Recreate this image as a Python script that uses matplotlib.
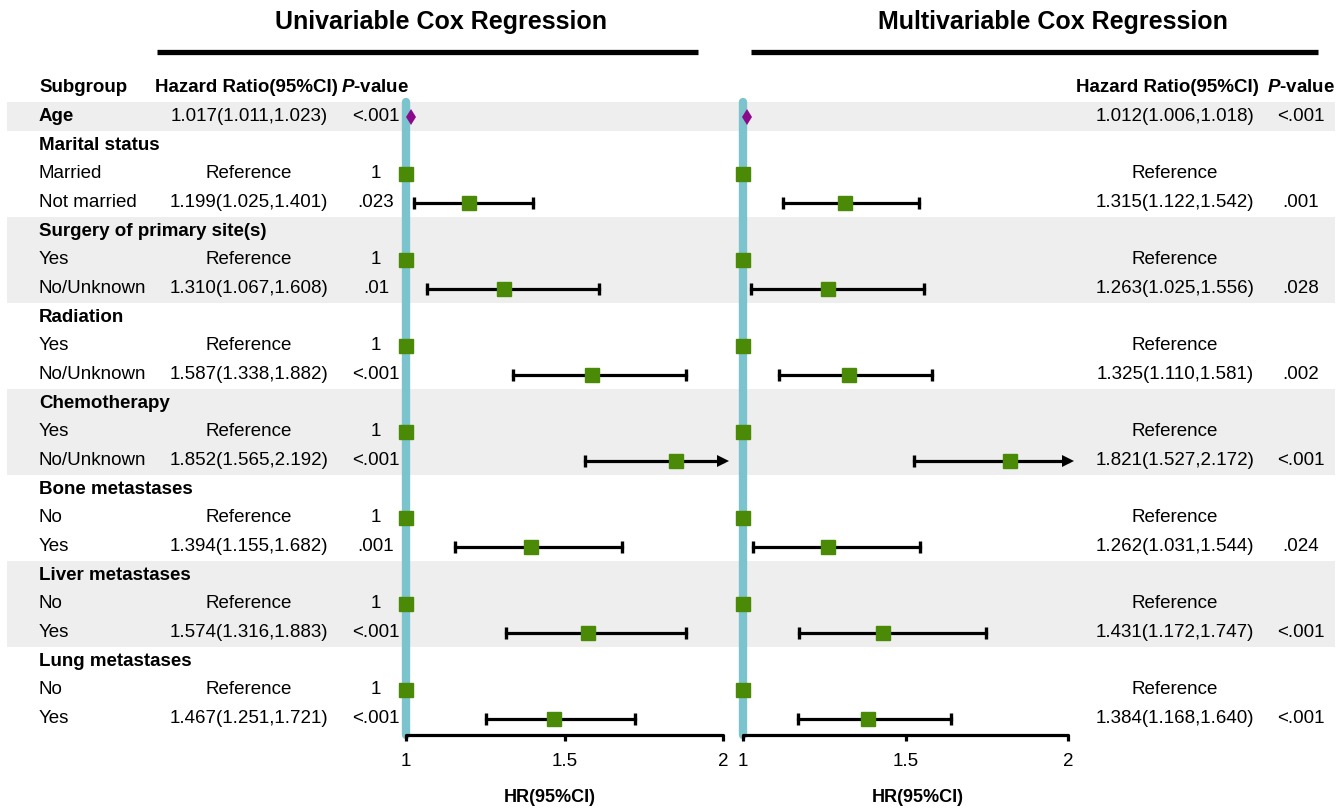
import numpy as np
import matplotlib
matplotlib.use("Agg")
import matplotlib.pyplot as plt
from matplotlib.patches import Rectangle

plt.rcParams["font.family"] = ["Liberation Sans", "DejaVu Sans"]
plt.rcParams["mathtext.fontset"] = "custom"
plt.rcParams["mathtext.bfit"] = "Liberation Sans:italic:bold"
plt.rcParams["mathtext.rm"] = "Liberation Sans:bold"

nan = np.nan

# ---- data -------------------------------------------------------------
labels = ["Age", "Marital status", "Married", "Not married",
          "Surgery of primary site(s)", "Yes", "No/Unknown",
          "Radiation", "Yes", "No/Unknown",
          "Chemotherapy", "Yes", "No/Unknown",
          "Bone metastases", "No", "Yes",
          "Liver metastases", "No", "Yes",
          "Lung metastases", "No", "Yes"]
is_header = [True, True, False, False, True, False, False, True, False, False,
             True, False, False, True, False, False, True, False, False,
             True, False, False]

uni_hr = [1.017, nan, 1, 1.199, nan, 1, 1.310, nan, 1, 1.587, nan, 1, 1.852,
          nan, 1, 1.394, nan, 1, 1.574, nan, 1, 1.467]
uni_lo = [1.011, nan, 1, 1.025, nan, 1, 1.067, nan, 1, 1.338, nan, 1, 1.565,
          nan, 1, 1.155, nan, 1, 1.316, nan, 1, 1.251]
uni_hi = [1.023, nan, 1, 1.401, nan, 1, 1.608, nan, 1, 1.882, nan, 1, 2.192,
          nan, 1, 1.682, nan, 1, 1.883, nan, 1, 1.721]
uni_p = ["<.001", "", "1", ".023", "", "1", ".01", "", "1", "<.001", "", "1",
         "<.001", "", "1", ".001", "", "1", "<.001", "", "1", "<.001"]

multi_hr = [1.012, nan, 1, 1.315, nan, 1, 1.263, nan, 1, 1.325, nan, 1, 1.821,
            nan, 1, 1.262, nan, 1, 1.431, nan, 1, 1.384]
multi_lo = [1.006, nan, 1, 1.122, nan, 1, 1.025, nan, 1, 1.110, nan, 1, 1.527,
            nan, 1, 1.031, nan, 1, 1.172, nan, 1, 1.168]
multi_hi = [1.018, nan, 1, 1.542, nan, 1, 1.556, nan, 1, 1.581, nan, 1, 2.172,
            nan, 1, 1.544, nan, 1, 1.747, nan, 1, 1.640]
multi_p = ["<.001", "", "", ".001", "", "", ".028", "", "", ".002", "", "",
           "<.001", "", "", ".024", "", "", "<.001", "", "", "<.001"]

shaded_groups = [(0, 1), (4, 3), (10, 3), (16, 3)]  # (first row, n rows)
xticks = [1, 1.5, 2]


def hr_text(hr, lo, hi):
    if np.isnan(hr):
        return ""
    if hr == 1 and lo == 1 and hi == 1:
        return "Reference"
    return f"{hr:.3f}({lo:.3f},{hi:.3f})"


# ---- layout (pixels) --------------------------------------------------
W, H = 1343, 809
Y0, DY = 116.5, 28.67
AX_TOP, AX_BOT = 98, 735
FS = 13.5
GREEN = "#4a8a06"
TEAL = "#7cc4cd"
SHADE = "#eeeeee"


def row_y(i):
    return Y0 + i * DY


fig = plt.figure(figsize=(W / 100, H / 100), dpi=100)
bg = fig.add_axes([0, 0, 1, 1])
bg.set_xlim(0, W)
bg.set_ylim(H, 0)
bg.axis("off")

for start, n in shaded_groups:
    bg.add_patch(Rectangle((7, row_y(start) - DY / 2), 1328, n * DY,
                           color=SHADE, lw=0, zorder=0))

# titles with underline
bg.text(441, 22, "Univariable Cox Regression", ha="center", va="center",
        fontsize=18, fontweight="bold")
bg.text(1053, 22, "Multivariable Cox Regression", ha="center", va="center",
        fontsize=18, fontweight="bold")
bg.plot([157, 698], [52, 52], color="black", lw=3.8, solid_capstyle="butt")
bg.plot([751, 1318], [52, 52], color="black", lw=3.8, solid_capstyle="butt")

# column headers
hy = row_y(0) - DY
pval_hdr = r"$\mathbfit{P}$-value"
bg.text(39, hy, "Subgroup", ha="left", va="center", fontsize=FS, fontweight="bold")
bg.text(246, hy, "Hazard Ratio(95%CI)", ha="center", va="center", fontsize=FS,
        fontweight="bold")
bg.text(375, hy, pval_hdr, ha="center", va="center", fontsize=FS, fontweight="bold")
bg.text(1167, hy, "Hazard Ratio(95%CI)", ha="center", va="center", fontsize=FS,
        fontweight="bold")
bg.text(1301, hy, pval_hdr, ha="center", va="center", fontsize=FS, fontweight="bold")

# table text
for i, lab in enumerate(labels):
    y = row_y(i)
    bg.text(39, y, lab, ha="left", va="center", fontsize=FS,
            fontweight="bold" if is_header[i] else "normal")
    bg.text(249, y, hr_text(uni_hr[i], uni_lo[i], uni_hi[i]), ha="center",
            va="center", fontsize=FS)
    bg.text(376, y, uni_p[i], ha="center", va="center", fontsize=FS)
    bg.text(1175, y, hr_text(multi_hr[i], multi_lo[i], multi_hi[i]), ha="center",
            va="center", fontsize=FS)
    bg.text(1301, y, multi_p[i], ha="center", va="center", fontsize=FS)


# ---- forest panels ----------------------------------------------------
def forest(px_left, px_right, hr, lo, hi, label_x):
    ax = fig.add_axes([px_left / W, (H - AX_BOT) / H,
                       (px_right - px_left) / W, (AX_BOT - AX_TOP) / H])
    ax.patch.set_alpha(0)
    ax.set_xlim(1, 2)
    ax.set_ylim((AX_BOT - Y0) / DY, (AX_TOP - Y0) / DY)
    ax.plot([1, 1], [-0.5, (AX_BOT - Y0) / DY], color=TEAL, lw=6,
            solid_capstyle="round", zorder=1, clip_on=False)
    for i in range(len(hr)):
        if np.isnan(hr[i]):
            continue
        if i == 0:
            ax.plot(hr[i], i, marker="d", color="#8b0a8b", markersize=8,
                    markeredgewidth=0, zorder=4, clip_on=False)
            continue
        if hr[i] == 1 and lo[i] == 1:
            ax.plot(hr[i], i, marker="s", color=GREEN, markersize=10,
                    zorder=4, clip_on=False)
            continue
        top = min(hi[i], 2)
        ax.plot([lo[i], top], [i, i], color="black", lw=2.3, zorder=2,
                clip_on=False)
        ax.plot([lo[i]], [i], marker="|", color="black", markersize=8,
                markeredgewidth=2.4, zorder=2)
        if hi[i] > 2:
            ax.plot([top], [i], marker=">", color="black", markersize=9,
                    markeredgewidth=0, zorder=2, clip_on=False)
        else:
            ax.plot([top], [i], marker="|", color="black", markersize=8,
                    markeredgewidth=2.4, zorder=2)
        ax.plot(hr[i], i, marker="s", color=GREEN, markersize=10, zorder=4,
                clip_on=False)
    for s in ["top", "right", "left"]:
        ax.spines[s].set_visible(False)
    ax.spines["bottom"].set_linewidth(2.3)
    ax.spines["bottom"].set_capstyle("round")
    ax.set_yticks([])
    ax.set_xticks(xticks)
    ax.set_xticklabels(["1", "1.5", "2"])
    ax.tick_params(axis="x", length=4, width=2.3, labelsize=FS, pad=9)
    bg.text(label_x, 797, "HR(95%CI)", ha="center", va="center", fontsize=13,
            fontweight="bold")
    return ax


forest(406, 723, uni_hr, uni_lo, uni_hi, 550)
forest(743, 1068, multi_hr, multi_lo, multi_hi, 918)

fig.savefig("out.png", dpi=100)
